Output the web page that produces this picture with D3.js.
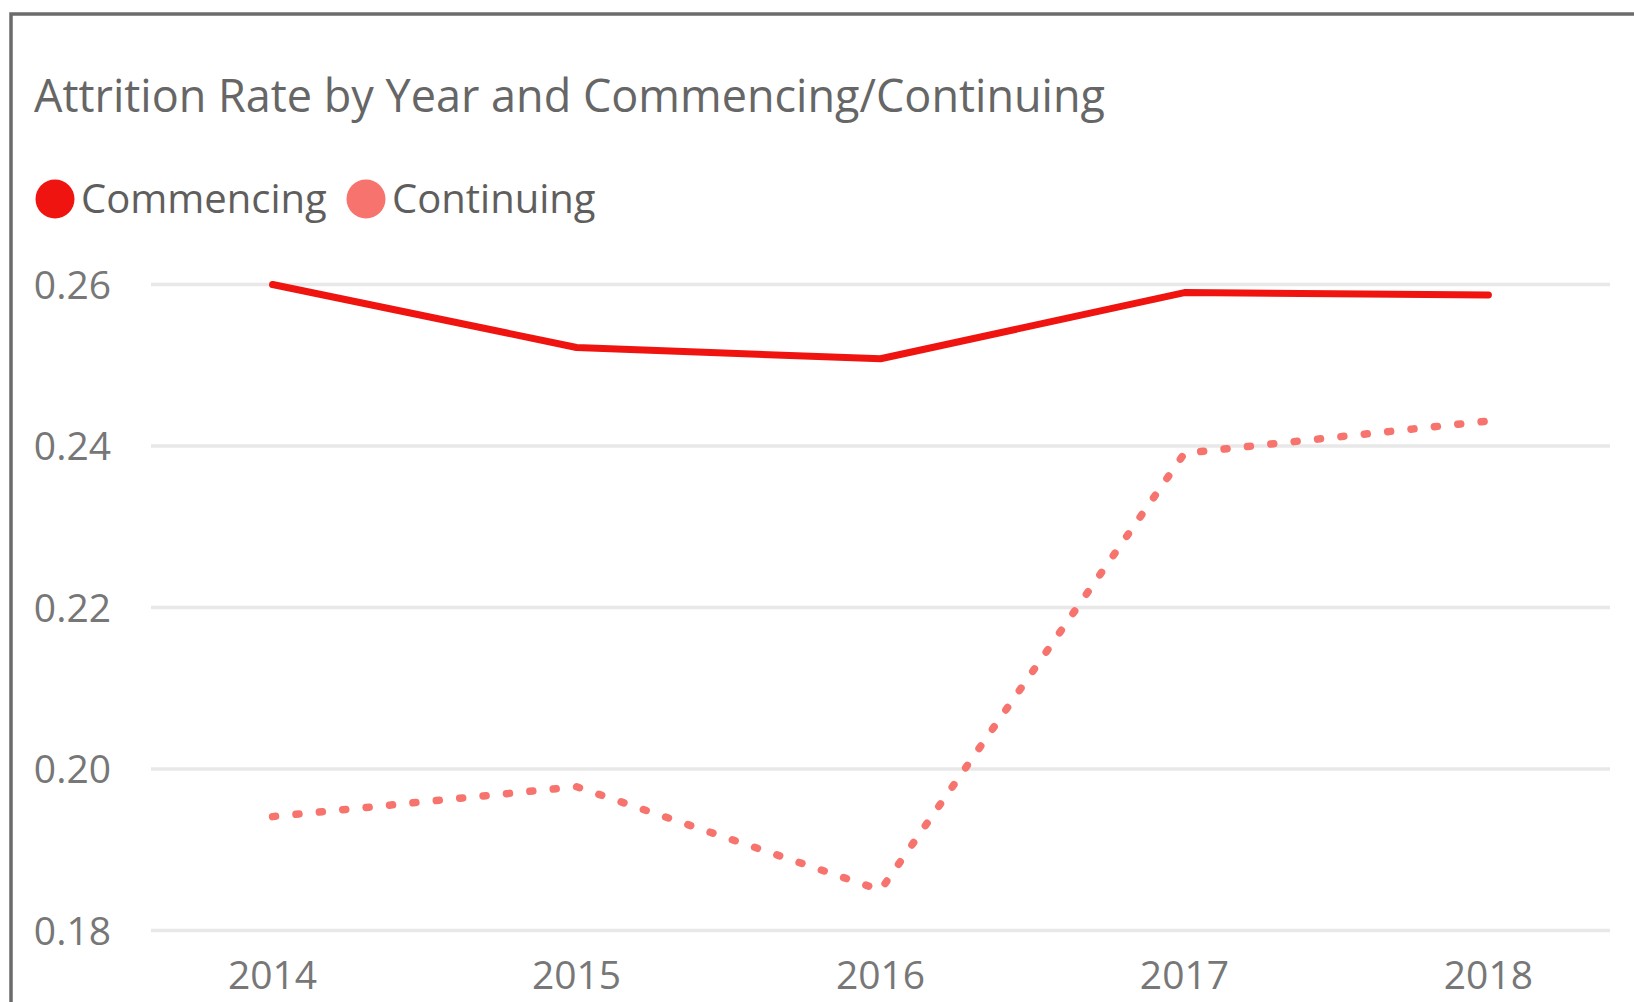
<!DOCTYPE html>
<html>
<head>
<meta charset="utf-8">
<script src="https://cdn.jsdelivr.net/npm/d3@7"></script>
<style>
    html, body { margin: 0; padding: 0; background: #fff; }
    svg { display: block; font-family: 'Open Sans', 'Noto Sans', sans-serif; }
</style>
</head>
<body>
<div class="chart"></div>
<script>
// data
const years = ['2014', '2015', '2016', '2017', '2018']
const commencing = [0.2600, 0.2522, 0.2508, 0.2590, 0.2587]
const continuing = [0.1941, 0.1978, 0.1850, 0.2391, 0.2431]
const yTicks = [0.18, 0.20, 0.22, 0.24, 0.26]
const seriesNames = ['Commencing', 'Continuing']

// definitions
const width = 1634
const height = 1002
const colors = { Commencing: '#ef1410', Continuing: '#f7736d' }

const x = d3
    .scalePoint()
    .domain(years)
    .range([151, 1610])
    .padding(0.4)
const y = d3
    .scaleLinear()
    .domain([0.18, 0.26])
    .range([930.5, 284.5])

const series = [
    { name: 'Commencing', values: commencing, dash: null },
    { name: 'Continuing', values: continuing, dash: '3 20.5' }
]

const svg = d3.select('.chart')
    .append('svg')
    .attr('width', width)
    .attr('height', height)

// card border (left + top edge)
svg.append('path')
    .attr('d', `M11,${height + 5} L11,14 L${width + 5},14`)
    .attr('fill', 'none')
    .attr('stroke', '#6b6b6b')
    .attr('stroke-width', 3.5)

// title
svg.append('text')
    .attr('x', 34)
    .attr('y', 112)
    .attr('fill', '#666666')
    .style('font-size', '45px')
    .text('Attrition Rate by Year and Commencing/Continuing')

// legend
const legendX = [55, 366]
const legend = svg.selectAll('.legend')
    .data(seriesNames)
    .enter()
    .append('g')
    .attr('class', 'legend')
    .attr('transform', (d, i) => `translate(${legendX[i]}, 199)`)
legend.append('circle')
    .attr('r', 19.5)
    .attr('fill', d => colors[d])
legend.append('text')
    .attr('x', 26)
    .attr('y', 14)
    .attr('fill', '#605e5c')
    .style('font-size', '40px')
    .text(d => d)

// gridlines + y labels
const yAxis = svg.append('g')
yAxis.selectAll('line')
    .data(yTicks)
    .enter()
    .append('line')
    .attr('x1', 151)
    .attr('x2', 1610)
    .attr('y1', d => y(d))
    .attr('y2', d => y(d))
    .attr('stroke', '#e8e8e8')
    .attr('stroke-width', 3.5)
yAxis.selectAll('text')
    .data(yTicks)
    .enter()
    .append('text')
    .attr('x', 111)
    .attr('y', d => y(d))
    .attr('dy', '0.36em')
    .attr('text-anchor', 'end')
    .attr('fill', '#777777')
    .style('font-size', '39px')
    .text(d => d3.format('.2f')(d))

// x labels
svg.append('g')
    .selectAll('text')
    .data(years)
    .enter()
    .append('text')
    .attr('x', d => x(d))
    .attr('y', 989)
    .attr('text-anchor', 'middle')
    .attr('fill', '#777777')
    .style('font-size', '39px')
    .text(d => d)

// lines
const line = d3
    .line()
    .x((d, i) => x(years[i]))
    .y(d => y(d))

svg.selectAll('.series')
    .data(series)
    .enter()
    .append('path')
    .attr('class', 'series')
    .attr('d', d => line(d.values))
    .attr('fill', 'none')
    .attr('stroke', d => colors[d.name])
    .attr('stroke-width', d => d.dash ? 7.5 : 7)
    .attr('stroke-linecap', 'round')
    .attr('stroke-linejoin', 'round')
    .attr('stroke-dasharray', d => d.dash)
</script>
</body>
</html>
